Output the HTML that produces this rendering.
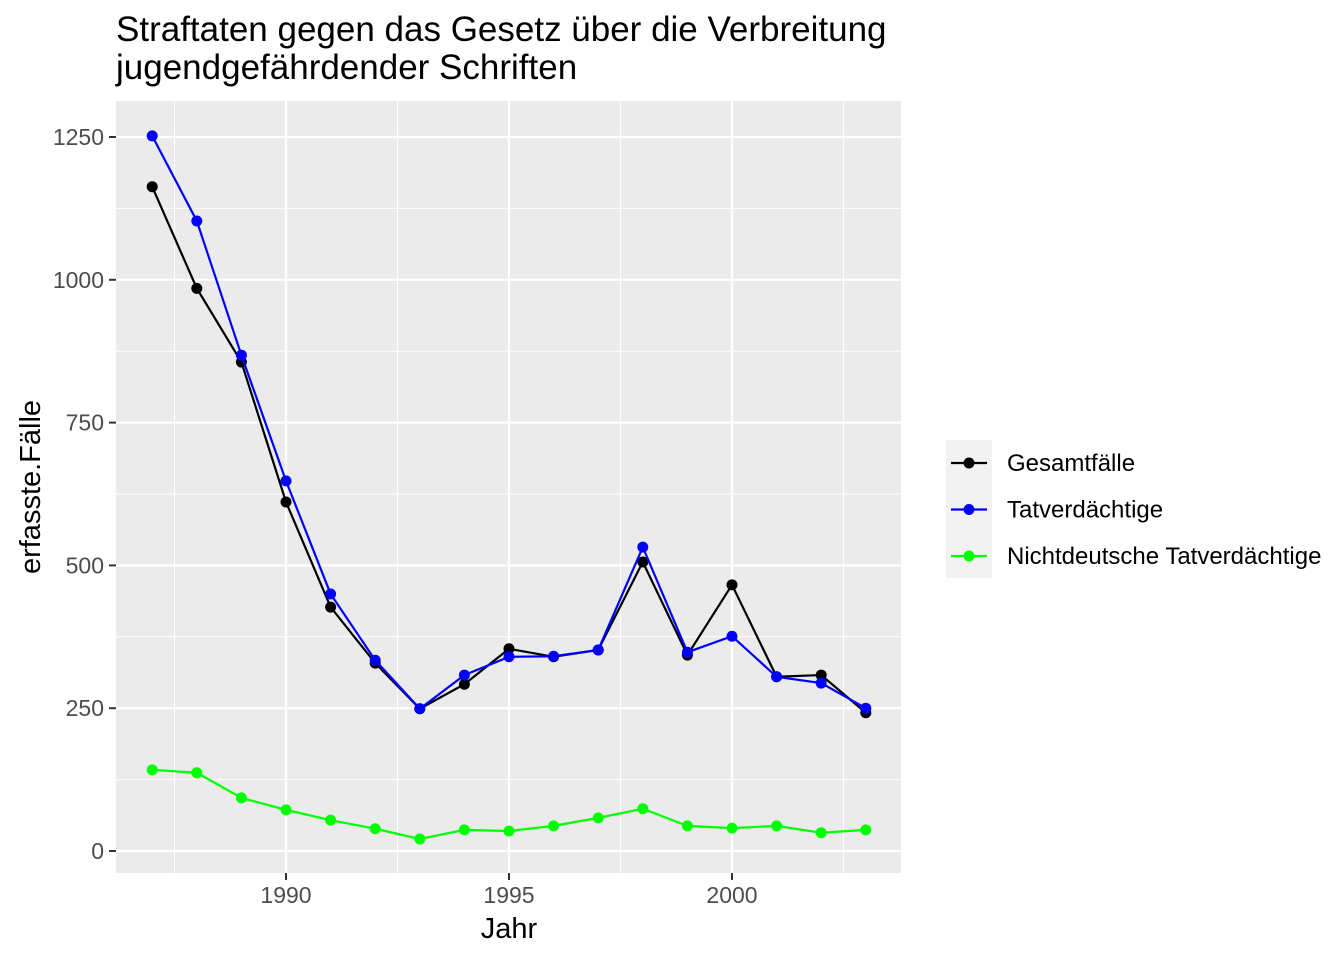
<!DOCTYPE html>
<html><head><meta charset="utf-8"><style>
body{margin:0;background:#fff;font-family:"Liberation Sans",sans-serif;}
</style></head><body>
<svg width="1344" height="960" xmlns="http://www.w3.org/2000/svg" id="chart">
<text x="116" y="41" font-size="35" fill="#000">Straftaten gegen das Gesetz über die Verbreitung</text>
<text x="116" y="79" font-size="35" fill="#000">jugendgefährdender Schriften</text>
<rect x="116" y="101" width="785" height="772" fill="#ebebeb"/>
<g id="grid"></g>
<g id="axes"></g>
<g id="series"></g>
<text x="509" y="938" font-size="29" text-anchor="middle">Jahr</text>
<text transform="translate(40,487) rotate(-90)" font-size="29" text-anchor="middle">erfasste.Fälle</text>
<rect x="946" y="440" width="46" height="138" fill="#f2f2f2"/>
<g id="legend"></g>
</svg>
<script>
const years=[1987,1988,1989,1990,1991,1992,1993,1994,1995,1996,1997,1998,1999,2000,2001,2002,2003];
const gesamt=[1163,985,856,611,427,329,249,292,354,340,352,506,343,466,305,308,242];
const tatv=[1252,1103,868,648,450,334,249,308,340,341,352,532,348,376,305,294,250];
const nicht=[142,137,93,72,54,39,21,37,35,44,58,74,44,40,44,32,37];
const xTicks=[1990,1995,2000];
const yTicks=[0,250,500,750,1000,1250];
const seriesNames=["Gesamtfälle","Tatverdächtige","Nichtdeutsche Tatverdächtige"];
const colors=["#000000","#0000ff","#00ff00"];
const NS="http://www.w3.org/2000/svg";
const x=v=>286+(v-1990)*44.6;
const y=v=>851-v*0.5712;
function mk(tag,attrs,parent){const e=document.createElementNS(NS,tag);for(const k in attrs)e.setAttribute(k,attrs[k]);parent.appendChild(e);return e;}
const grid=document.getElementById('grid'),axes=document.getElementById('axes'),ser=document.getElementById('series'),leg=document.getElementById('legend');
for(let i=0;i<xTicks.length+1;i++){const v=xTicks[0]-2.5+5*i;const l=mk('line',{x1:x(v),x2:x(v),y1:101,y2:873,stroke:'#fff','stroke-width':1},grid);

}
for(let i=0;i<yTicks.length;i++){const v=yTicks[i]+125;if(y(v)<101)continue;const l=mk('line',{x1:116,x2:901,y1:y(v),y2:y(v),stroke:'#fff','stroke-width':1},grid);

}
xTicks.forEach(v=>{const l=mk('line',{x1:x(v),x2:x(v),y1:101,y2:873,stroke:'#fff','stroke-width':2.2},grid);


const t=mk('line',{x1:x(v),x2:x(v),y1:873,y2:880,stroke:'#333','stroke-width':2},axes);


const tx=mk('text',{x:x(v),y:903,'font-size':23,'text-anchor':'middle',fill:'#4d4d4d'},axes);tx.textContent=v;

});
yTicks.forEach(v=>{const l=mk('line',{x1:116,x2:901,y1:y(v),y2:y(v),stroke:'#fff','stroke-width':2.2},grid);


const t=mk('line',{x1:109,x2:116,y1:y(v),y2:y(v),stroke:'#333','stroke-width':2},axes);


const tx=mk('text',{x:104,y:y(v)+8,'font-size':23,'text-anchor':'end',fill:'#4d4d4d'},axes);tx.textContent=v;

});
[gesamt,tatv,nicht].forEach((data,si)=>{
const p=mk('polyline',{points:data.map((d,i)=>x(years[i])+','+y(d)).join(' '),fill:'none',stroke:colors[si],'stroke-width':2.2},ser);


data.forEach((d,i)=>{const c=mk('circle',{cx:x(years[i]),cy:y(d),r:5.5,fill:colors[si]},ser);

});
const ly=463+si*46.5;
const ll=mk('line',{x1:951,x2:987,y1:ly,y2:ly,stroke:colors[si],'stroke-width':2.2},leg);


const lc=mk('circle',{cx:969,cy:ly,r:5.5,fill:colors[si]},leg);


const lt=mk('text',{x:1007,y:ly+8,'font-size':24,fill:'#000'},leg);lt.textContent=seriesNames[si];


});
</script>
</body></html>
